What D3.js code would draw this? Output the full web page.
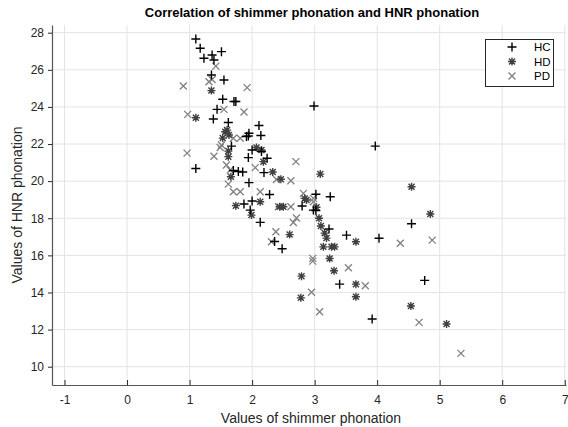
<!DOCTYPE html>
<html>
<head>
<meta charset="utf-8">
<script src="https://cdnjs.cloudflare.com/ajax/libs/d3/7.8.5/d3.min.js"></script>
<style>
  body { margin: 0; background: #fff; }
  svg { display: block; font-family: "Liberation Sans", Arial, sans-serif; }
</style>
</head>
<body>
<div id="chart"></div>
<script>
// shimmer (x) / HNR (y) values
var hcShimmer = [1.10, 1.17, 1.23, 1.36, 1.51, 1.39, 1.35, 1.55, 1.53, 1.71, 1.74, 1.44, 1.38, 1.62,
                 2.11, 2.14, 1.91, 1.94, 1.95, 1.67, 2.00, 2.15, 1.94, 2.24, 1.10, 1.70, 1.78, 1.85,
                 2.19, 1.95, 2.28, 1.87, 2.00, 1.97, 2.13, 2.36, 2.48, 2.99, 3.97, 3.02, 3.25, 2.98,
                 3.02, 3.23, 3.51, 4.03, 4.55, 3.40, 3.92, 4.76, 2.80];
var hcHnr = [27.66, 27.16, 26.62, 26.80, 26.98, 26.53, 25.72, 25.45, 24.41, 24.29, 24.29, 23.87, 23.35, 23.16,
             23.00, 22.46, 22.40, 22.43, 22.58, 21.89, 21.68, 21.60, 21.27, 21.23, 20.68, 20.57, 20.52, 20.49,
             20.46, 19.92, 19.28, 18.77, 18.93, 18.44, 17.78, 16.75, 16.36, 24.05, 21.89, 19.29, 19.16, 18.44,
             18.42, 17.42, 17.09, 16.92, 17.70, 14.45, 12.57, 14.65, 18.66];

var hdShimmer = [1.35, 1.10, 1.57, 1.60, 1.53, 1.63, 1.62, 1.62, 2.07, 2.15, 2.18, 1.66, 2.33, 2.46,
                 3.09, 4.55, 1.74, 2.13, 1.99, 2.44, 2.50, 2.84, 2.87, 3.07, 3.10, 3.16, 3.19, 2.60,
                 3.14, 3.27, 3.32, 3.66, 3.24, 3.31, 2.79, 3.66, 3.66, 2.78, 4.54, 4.85, 5.11, 3.03];
var hdHnr = [24.88, 23.42, 22.66, 22.75, 22.32, 22.49, 21.62, 21.32, 21.81, 21.68, 21.05, 20.24, 20.49, 20.10,
             20.38, 19.70, 18.68, 18.89, 18.17, 18.62, 18.62, 19.07, 18.98, 18.00, 17.58, 17.20, 16.93, 17.12,
             16.46, 16.46, 16.46, 16.73, 15.83, 15.17, 14.88, 14.45, 13.77, 13.71, 13.27, 18.23, 12.30, 18.59];

var pdShimmer = [0.90, 1.42, 1.31, 1.36, 1.92, 0.97, 1.55, 1.87, 1.51, 0.96, 1.39, 1.49, 1.70, 1.81,
                 2.70, 2.62, 2.39, 2.05, 1.59, 1.62, 1.70, 1.81, 2.13, 2.42, 2.62, 2.71, 2.66, 2.38,
                 2.31, 2.82, 2.98, 2.98, 2.97, 2.97, 3.54, 2.95, 3.81, 3.08, 4.37, 4.88, 4.67, 5.34, 1.65];
var pdHnr = [25.13, 26.20, 25.36, 25.48, 25.04, 23.60, 23.87, 23.73, 21.95, 21.51, 21.34, 21.81, 22.31, 22.31,
             21.05, 20.02, 20.09, 20.73, 20.87, 19.84, 19.43, 19.43, 19.43, 18.62, 18.62, 18.01, 17.77, 17.27,
             16.73, 19.34, 19.07, 18.89, 15.84, 15.69, 15.33, 14.01, 14.36, 12.96, 16.65, 16.82, 12.39, 10.72, 20.60];

var groupNames = ["HC", "HD", "PD"];
var xTicks = [-1, 0, 1, 2, 3, 4, 5, 6, 7];
var yTicks = [10, 12, 14, 16, 18, 20, 22, 24, 26, 28];

var width = 568, height = 427;
var plotLeft = 52, plotRight = 566, plotTop = 25, plotBottom = 385;
var ink = "#262626";

var svg = d3.select("#chart").append("svg")
            .attr("width", width)
            .attr("height", height);

var x = d3.scaleLinear().domain([-1.2, 7.02]).range([plotLeft, plotRight]);
var y = d3.scaleLinear().domain([9.014, 28.415]).range([plotBottom, plotTop]);

// grid
svg.append("g").selectAll("line").data(xTicks).join("line")
    .attr("x1", function(d){ return x(d); })
    .attr("x2", function(d){ return x(d); })
    .attr("y1", plotTop).attr("y2", plotBottom)
    .attr("stroke", "#e3e3e3").attr("stroke-width", 1);

svg.append("g").selectAll("line").data(yTicks).join("line")
    .attr("y1", function(d){ return y(d); })
    .attr("y2", function(d){ return y(d); })
    .attr("x1", plotLeft).attr("x2", plotRight)
    .attr("stroke", "#e3e3e3").attr("stroke-width", 1);

// axes
var xAxis = svg.append("g")
    .attr("transform", "translate(0," + plotBottom + ")")
    .call(d3.axisBottom(x).tickValues(xTicks).tickSizeInner(-5).tickSizeOuter(0).tickPadding(10)
          .tickFormat(function(d){ return String(d); }));
var yAxis = svg.append("g")
    .attr("transform", "translate(" + plotLeft + ",0)")
    .call(d3.axisLeft(y).tickValues(yTicks).tickSizeInner(4).tickSizeOuter(0).tickPadding(4));

[xAxis, yAxis].forEach(function(a){
    a.select(".domain").attr("stroke", "#555").attr("stroke-width", 1.2);
    a.selectAll(".tick line").attr("stroke", ink);
    a.selectAll(".tick text").attr("fill", ink)
        .style("font-size", "12px")
        .style("font-family", "Liberation Sans, Arial, sans-serif");
});

// texts
svg.append("text")
    .attr("x", 312).attr("y", 17)
    .attr("text-anchor", "middle")
    .attr("font-size", 13).attr("font-weight", "bold")
    .attr("fill", "#000")
    .text("Correlation of shimmer phonation and HNR phonation");

svg.append("text")
    .attr("x", 311).attr("y", 423)
    .attr("text-anchor", "middle")
    .attr("font-size", 14)
    .attr("fill", ink)
    .text("Values of shimmer phonation");

svg.append("text")
    .attr("transform", "translate(22," + ((plotTop + plotBottom) / 2) + ") rotate(-90)")
    .attr("text-anchor", "middle")
    .attr("font-size", 14)
    .attr("fill", ink)
    .text("Values of HNR phonation");

// marker shapes
var plusPath = "M-4.5,0H4.5M0,-4.5V4.5";
var starPath = "M-4,0H4M0,-4V4M-3,-3L3,3M-3,3L3,-3";
var crossPath = "M-3.5,-3.5L3.5,3.5M-3.5,3.5L3.5,-3.5";

function drawGroup(xs, ys, shape, color, sw){
    var pts = xs.map(function(v, i){ return [v, ys[i]]; });
    svg.append("g").selectAll("path").data(pts).join("path")
        .attr("transform", function(d){ return "translate(" + x(d[0]) + "," + y(d[1]) + ")"; })
        .attr("d", shape)
        .attr("fill", "none")
        .attr("stroke", color)
        .attr("stroke-width", sw);
}

drawGroup(pdShimmer, pdHnr, crossPath, "#808080", 1.3);
drawGroup(hdShimmer, hdHnr, starPath, "#404040", 1.4);
drawGroup(hcShimmer, hcHnr, plusPath, "#000000", 1.4);

// legend
var legend = svg.append("g");
legend.append("rect")
    .attr("x", 485.5).attr("y", 39.5)
    .attr("width", 68).attr("height", 47)
    .attr("fill", "#fff").attr("stroke", ink).attr("stroke-width", 1);

var legShapes = [plusPath, starPath, crossPath];
var legColors = ["#000000", "#404040", "#808080"];
legend.selectAll("path").data(groupNames).join("path")
    .attr("transform", function(d, i){ return "translate(512," + (47 + i * 14.5) + ")"; })
    .attr("d", function(d, i){ return legShapes[i]; })
    .attr("fill", "none")
    .attr("stroke", function(d, i){ return legColors[i]; })
    .attr("stroke-width", 1.4);
legend.selectAll("text").data(groupNames).join("text")
    .attr("x", 534).attr("y", function(d, i){ return 51 + i * 14.5; })
    .attr("font-size", 11.5)
    .attr("fill", "#000")
    .text(function(d){ return d; });
</script>
</body>
</html>
